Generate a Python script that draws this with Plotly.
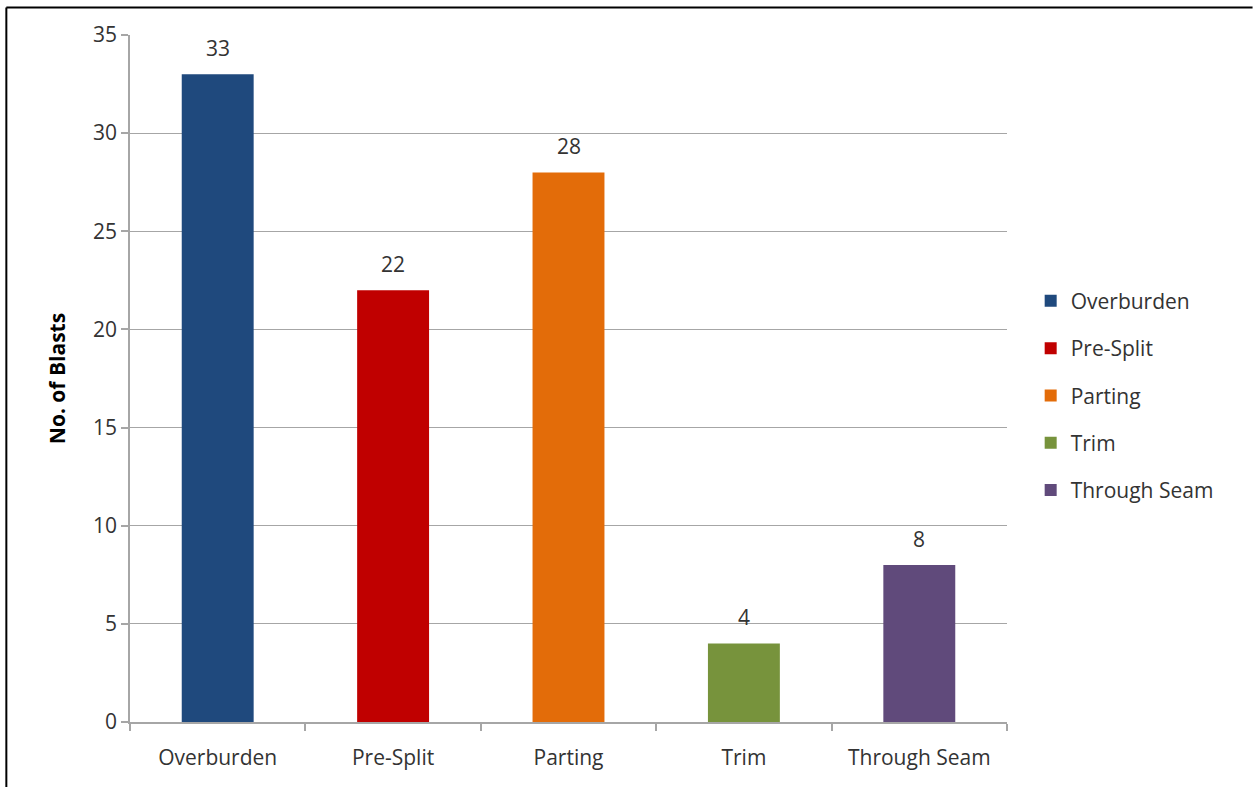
import plotly.graph_objects as go

categories = ["Overburden", "Pre-Split", "Parting", "Trim", "Through Seam"]
values = [33, 22, 28, 4, 8]
colors = ["#1F497D", "#C00000", "#E36C09", "#77933C", "#604A7B"]
y_ticks = [0, 5, 10, 15, 20, 25, 30, 35]

font_family = "Open Sans, Liberation Sans, sans-serif"
txt_color = "#333333"

fig = go.Figure()
for cat, val, col in zip(categories, values, colors):
    fig.add_trace(go.Bar(
        x=[cat], y=[val], name=cat, marker=dict(color=col, line=dict(width=0)),
        width=0.41, legendgroup=cat,
    ))
    fig.add_annotation(x=cat, y=val, text=str(val), showarrow=False,
                       yanchor="bottom", yshift=10,
                       font=dict(size=21, color=txt_color, family=font_family))

fig.update_layout(
    width=1253, height=787,
    margin=dict(l=130, r=246, t=35, b=65),
    paper_bgcolor="white", plot_bgcolor="white",
    barmode="overlay",
    font=dict(family=font_family, size=21, color=txt_color),
    legend=dict(x=1.027, y=0.475, xanchor="left", yanchor="middle",
                traceorder="grouped", tracegroupgap=17,
                font=dict(size=21, color=txt_color), itemsizing="constant"),
    xaxis=dict(categoryorder="array", categoryarray=categories,
               showline=True, linecolor="#A6A6A6", linewidth=1.5,
               ticks="outside", tickson="boundaries", ticklen=7, tickcolor="#A6A6A6",
               tickwidth=1.5, showgrid=False, ticklabelstandoff=16,
               tickfont=dict(size=21, color=txt_color)),
    yaxis=dict(range=[0, 35], tickvals=y_ticks, showline=True, linecolor="#A6A6A6",
               linewidth=1.5, ticks="outside", ticklen=7, tickcolor="#A6A6A6",
               tickwidth=1.5, showgrid=True, gridcolor="#A6A6A6", gridwidth=1,
               zeroline=False, tickfont=dict(size=21, color=txt_color),
               title=dict(text="<b>No. of Blasts</b>", standoff=22,
                          font=dict(size=21, color="#000000"))),
)

# Outer frame lines (top and left)
fig.add_shape(type="line", xref="paper", yref="paper", x0=-0.141, x1=1.28, y0=1.04, y1=1.04,
              line=dict(color="black", width=2))
fig.add_shape(type="line", xref="paper", yref="paper", x0=-0.141, x1=-0.141, y0=1.04, y1=-0.1,
              line=dict(color="black", width=2))

fig.write_html("out.html")
